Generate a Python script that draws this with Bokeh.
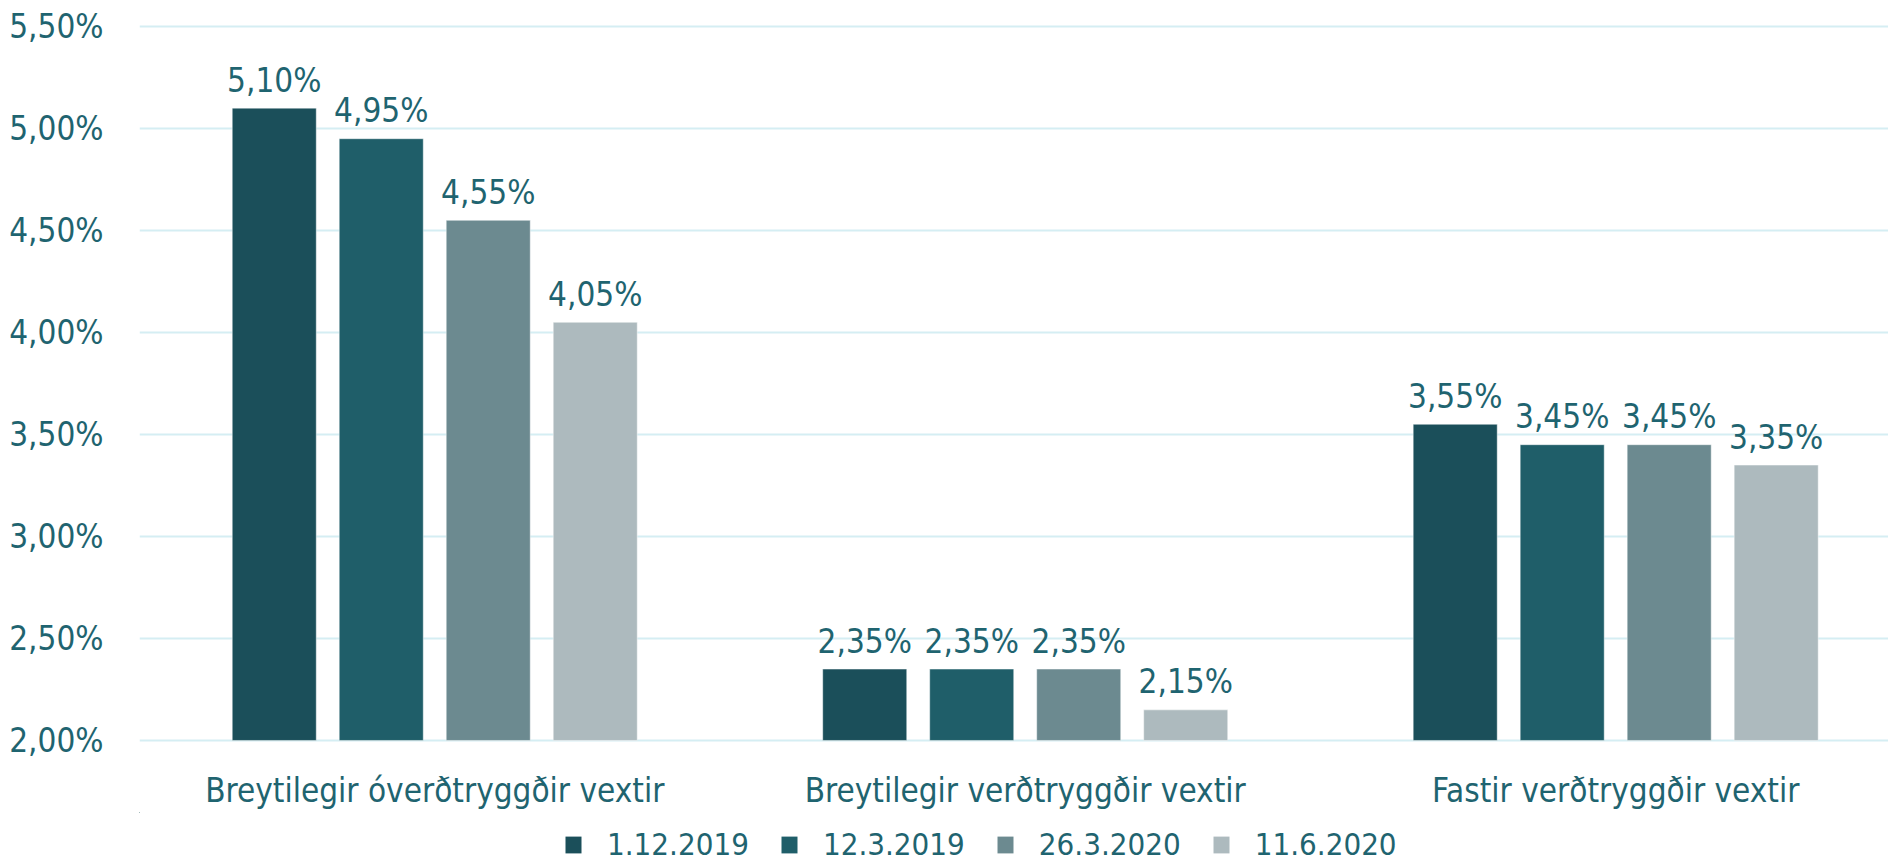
from bokeh.plotting import figure
from bokeh.layouts import column
from bokeh.models import ColumnDataSource, FixedTicker, Legend, LegendItem, Range1d
from bokeh.transform import dodge
from bokeh.core.properties import value
from bokeh.embed import file_html
from bokeh.resources import INLINE

categories = ["Breytilegir óverðtryggðir vextir",
              "Breytilegir verðtryggðir vextir",
              "Fastir verðtryggðir vextir"]
series_names = ["1.12.2019", "12.3.2019", "26.3.2020", "11.6.2020"]
s1 = [5.10, 2.35, 3.55]
s2 = [4.95, 2.35, 3.45]
s3 = [4.55, 2.35, 3.45]
s4 = [4.05, 2.15, 3.35]
series_values = [s1, s2, s3, s4]
y_ticks = [2.0, 2.5, 3.0, 3.5, 4.0, 4.5, 5.0, 5.5]
y_tick_labels = ["2,00%", "2,50%", "3,00%", "3,50%", "4,00%", "4,50%", "5,00%", "5,50%"]

colors = ["#1B4F5A", "#1F5E69", "#6C8A90", "#ADBABE"]
text_color = "#1F6470"
grid_color = "#D5EEF3"
FONT = "DejaVu Sans Condensed"
FS = "33px"

x_pos = [i + 0.5 for i in range(len(categories))]

H1 = 812
p = figure(width=1888, height=H1, output_backend="svg", toolbar_location=None,
           x_range=Range1d(0, 2.962), y_range=Range1d(1.99, 5.51),
           min_border_left=139, min_border_right=0, min_border_top=24,
           min_border_bottom=H1 - 752)
p.outline_line_color = None
p.background_fill_color = "white"
p.border_fill_color = "white"

pitch = 0.1812
bar_w = 0.1423
offsets = [-1.5 * pitch, -0.5 * pitch, 0.5 * pitch, 1.5 * pitch]

sources = []
for k, (name, vals) in enumerate(zip(series_names, series_values)):
    src = ColumnDataSource(dict(
        x=x_pos, top=vals,
        label=[f"{v:.2f}".replace(".", ",") + "%" for v in vals]))
    sources.append(src)
    p.vbar(x=dodge("x", offsets[k]), top="top", bottom=2.0, width=bar_w, source=src,
           fill_color=colors[k], line_color="white", line_alpha=0.45, line_width=1)
    p.text(x=dodge("x", offsets[k]), y="top", text="label", source=src,
           text_align="center", text_baseline="alphabetic", y_offset=-28,
           text_font=value(FONT), text_font_size=FS, text_color=text_color)

# axes
p.xaxis.ticker = FixedTicker(ticks=x_pos)
p.xaxis.major_label_overrides = {x: c for x, c in zip(x_pos, categories)}
p.yaxis.ticker = FixedTicker(ticks=y_ticks)
p.yaxis.major_label_overrides = {t: l for t, l in zip(y_ticks, y_tick_labels)}
for ax in (p.xaxis, p.yaxis):
    ax.axis_line_color = None
    ax.major_tick_line_color = None
    ax.minor_tick_line_color = None
    ax.major_label_text_font = FONT
    ax.major_label_text_font_size = FS
    ax.major_label_text_color = text_color
p.xaxis.major_label_standoff = 22
p.yaxis.major_label_standoff = 30

p.xgrid.grid_line_color = None
p.ygrid.grid_line_color = grid_color
p.ygrid.grid_line_width = 2

# legend strip (same series sources; this strip's ranges keep the bars out of view)
H2 = 862 - H1
lg = figure(width=1888, height=H2, output_backend="svg", toolbar_location=None,
            x_range=Range1d(100, 102.962), y_range=Range1d(-100, -99),
            x_axis_type=None, y_axis_type=None, min_border=0)
lg.outline_line_color = None
lg.background_fill_color = "white"
lg.border_fill_color = "white"
items = []
for k, name in enumerate(series_names):
    r = lg.vbar(x=dodge("x", offsets[k]), top="top", bottom=2.0, width=bar_w,
                source=sources[k], fill_color=colors[k], line_color=None)
    items.append(LegendItem(label=name, renderers=[r], index=0))
legend = Legend(items=items, orientation="horizontal", location=(424, 0),
                glyph_width=20, glyph_height=21, label_standoff=24, spacing=30,
                padding=0, margin=0, border_line_color=None, background_fill_alpha=0,
                label_text_font=FONT, label_text_font_size="31px",
                label_text_color=text_color)
lg.add_layout(legend, "center")

open("out.html", "w").write(file_html(column(p, lg, spacing=0), INLINE))
